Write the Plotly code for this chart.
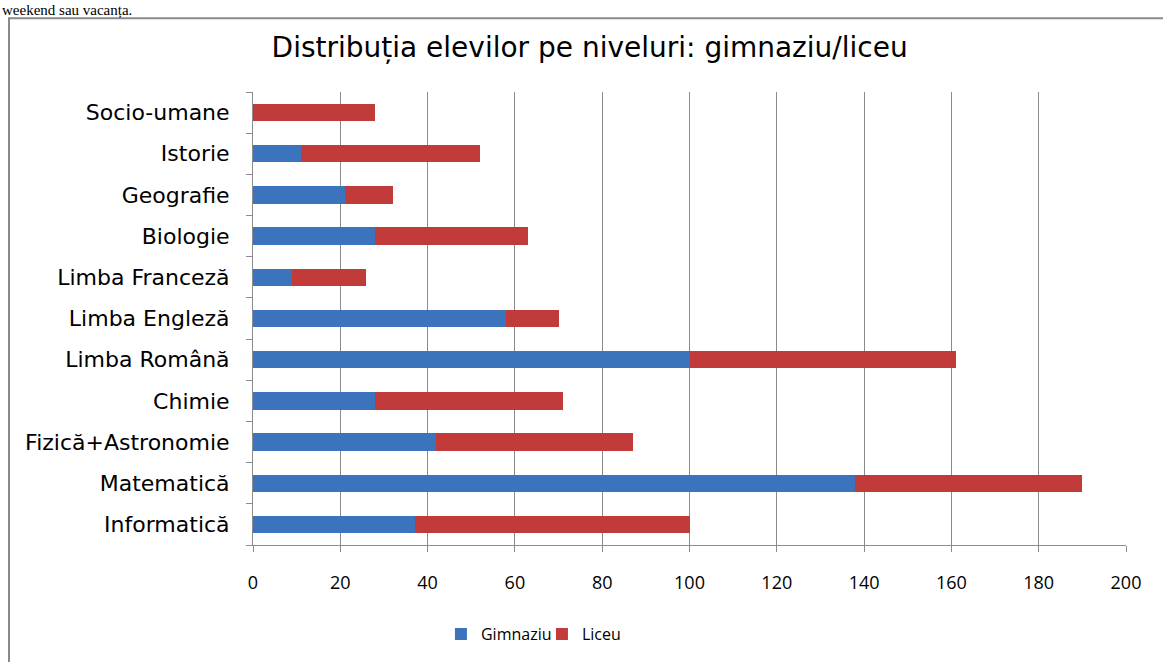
import plotly.graph_objects as go

# data (bottom to top)
subjects = ['Informatică', 'Matematică', 'Fizică+Astronomie', 'Chimie', 'Limba Română',
            'Limba Engleză', 'Limba Franceză', 'Biologie', 'Geografie', 'Istorie', 'Socio-umane']
gimnaziu = [37, 138, 42, 28, 100, 58, 9, 28, 21, 11, 0]
liceu = [63, 52, 45, 43, 61, 12, 17, 35, 11, 41, 28]
x_ticks = [0, 20, 40, 60, 80, 100, 120, 140, 160, 180, 200]

BLUE = '#3b73bc'
RED = '#c23b3b'
GRID = '#8c8c8c'

fig = go.Figure()
fig.add_trace(go.Bar(y=subjects, x=gimnaziu, name='Gimnaziu', orientation='h',
                     marker=dict(color=BLUE, line=dict(width=0))))
fig.add_trace(go.Bar(y=subjects, x=liceu, name='Liceu', orientation='h',
                     marker=dict(color=RED, line=dict(width=0))))

fig.update_layout(
    barmode='stack', bargap=0.58,
    width=1163, height=662,
    margin=dict(l=253, r=37, t=92, b=116),
    paper_bgcolor='white', plot_bgcolor='white',
    font=dict(family='DejaVu Sans', color='black'),
    title=dict(text='Distribuția elevilor pe niveluri: gimnaziu/liceu',
               x=0.507, xanchor='center', y=0.929, yanchor='middle',
               font=dict(size=28, color='black', family='DejaVu Sans')),
    legend=dict(orientation='h', x=0.2153, xanchor='left', y=-0.194, yanchor='middle',
                font=dict(size=16, family='Open Sans'),
                itemwidth=30, entrywidth=56, traceorder='normal'),
)
fig.update_xaxes(range=[0, 200], tickvals=x_ticks, showgrid=True, gridcolor=GRID, gridwidth=1,
                 showline=True, linecolor=GRID, linewidth=1, ticks='outside', ticklen=6,
                 tickcolor=GRID, tickfont=dict(size=18, family='Open Sans'),
                 ticklabelstandoff=15, zeroline=False, fixedrange=True)
fig.update_yaxes(showgrid=False, showline=True, linecolor=GRID, linewidth=1,
                 ticks='outside', tickson='boundaries', ticklen=6, tickcolor=GRID,
                 tickfont=dict(size=22, family='DejaVu Sans'),
                 ticklabelstandoff=18, fixedrange=True)

# outer chart frame, like the Excel chart area
fig.add_shape(type='rect', xref='paper', yref='paper', x0=-0.2795, x1=1.06, y0=-0.32, y1=1.163,
              line=dict(color='#8a8a8a', width=2), layer='below')

# line of document text above the chart
fig.add_annotation(text='weekend sau vacanța.', xref='paper', yref='paper',
                   x=-0.2898, xanchor='left', y=1.2026, yanchor='top', showarrow=False,
                   font=dict(family='Liberation Serif', size=15, color='black'))

fig.write_html("out.html", config={'displayModeBar': False},
               post_script="document.body.style.margin='0';")
